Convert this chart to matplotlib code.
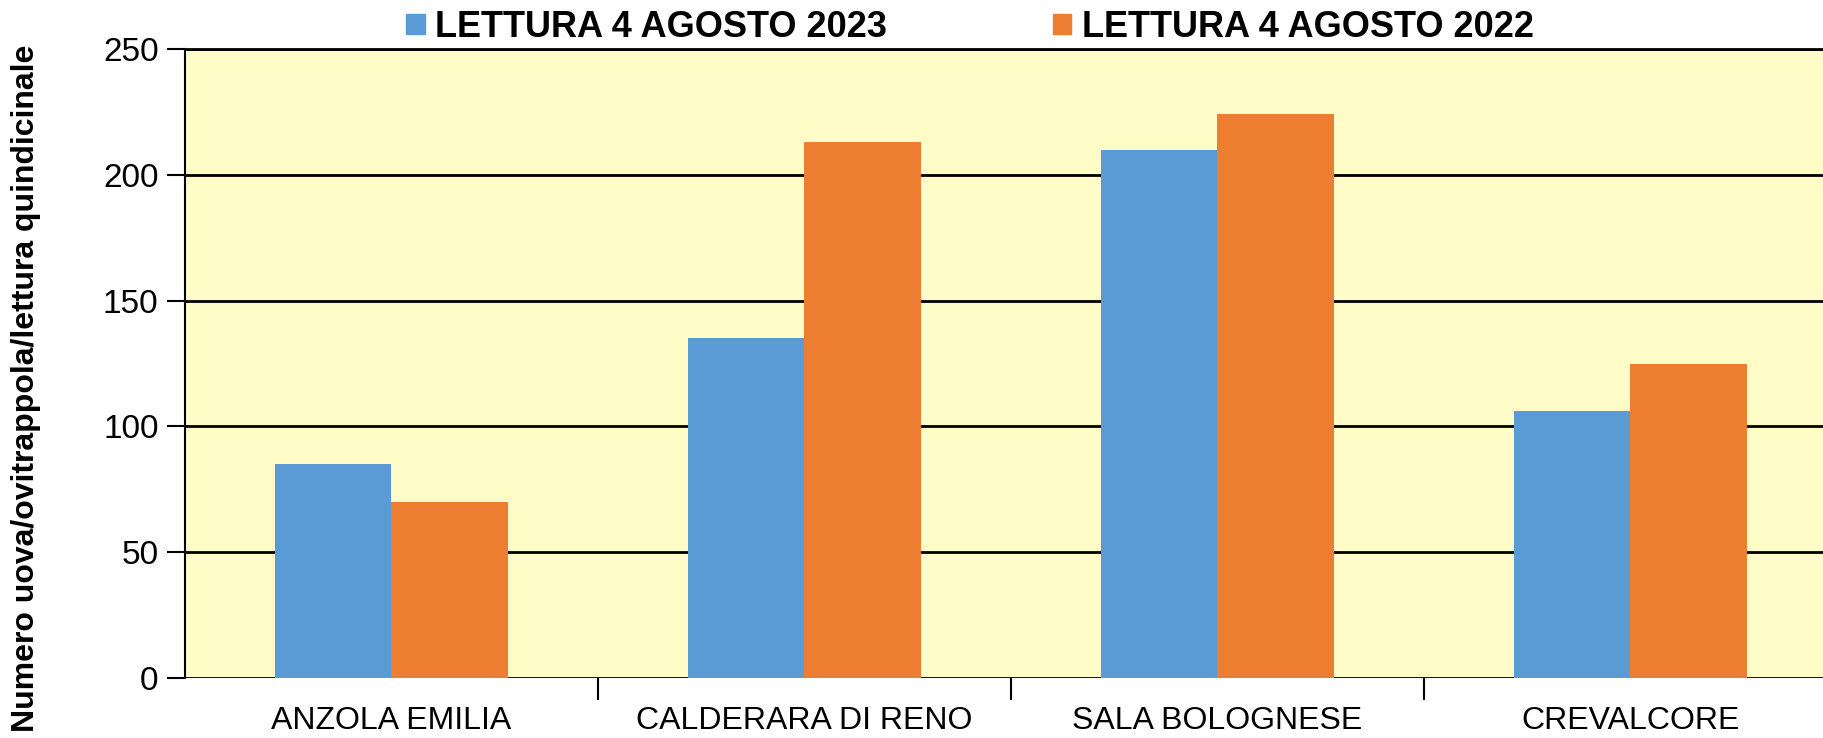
import matplotlib
matplotlib.use("Agg")
import matplotlib.pyplot as plt
import numpy as np
from matplotlib.patches import Patch

# data
comuni = ["ANZOLA EMILIA", "CALDERARA DI RENO", "SALA BOLOGNESE", "CREVALCORE"]
lettura_2023 = [85, 135, 210, 106]
lettura_2022 = [70, 213, 224, 125]
series_labels = ["LETTURA 4 AGOSTO 2023", "LETTURA 4 AGOSTO 2022"]
y_ticks = [0, 50, 100, 150, 200, 250]

blue = "#5B9BD5"
orange = "#ED7D31"
bg = "#FFFCC8"

plt.rcParams["font.family"] = ["Liberation Sans", "DejaVu Sans"]

fig = plt.figure(figsize=(18.24, 7.38), dpi=100)
ax = fig.add_axes([0.1014, 0.0813, 0.9057, 0.8523])
ax.set_facecolor(bg)

x = np.arange(len(comuni))
w = 0.283
ax.bar(x - w / 2, lettura_2023, width=w, color=blue, zorder=3)
ax.bar(x + w / 2, lettura_2022, width=w, color=orange, zorder=3)

ax.set_xlim(-0.5, len(comuni) - 0.5)
ax.set_ylim(0, 250)
ax.set_yticks(y_ticks)
ax.set_yticklabels([str(v) for v in y_ticks], fontsize=24)
ax.grid(axis="y", color="black", linewidth=2, zorder=1)
ax.set_axisbelow(True)

# categories labelled at centers, tick marks on boundaries
ax.set_xticks(x)
ax.set_xticklabels(comuni, fontsize=23)
ax.tick_params(axis="x", which="major", length=0, pad=20)
ax.set_xticks(np.arange(0.5, len(comuni) - 0.5), minor=True)
ax.tick_params(axis="x", which="minor", length=16, width=1.5, color="black")
ax.tick_params(axis="y", length=13, width=1.5, pad=6)

for side in ["right", "bottom"]:
    ax.spines[side].set_visible(False)
ax.spines["left"].set_linewidth(1.5)
ax.spines["top"].set_linewidth(2)

ax.set_ylabel("Numero uova/ovitrappola/lettura quindicinale", fontsize=23,
              fontweight="bold")
ax.yaxis.set_label_coords(-0.087, 0.46)

handles = [Patch(color=blue), Patch(color=orange)]
fig.legend(handles, series_labels, loc="center", bbox_to_anchor=(0.532, 0.963),
           ncol=2, frameon=False, handlelength=0.5, handleheight=0.5,
           handletextpad=0.3, columnspacing=4.6,
           prop={"weight": "bold", "size": 26})

fig.savefig("out.png", dpi=100)
